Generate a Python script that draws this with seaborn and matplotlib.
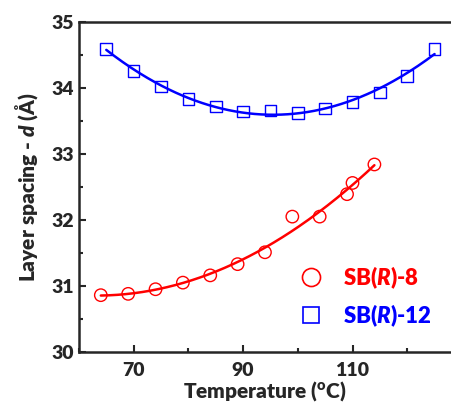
import numpy as np
import pandas as pd
import matplotlib
matplotlib.use("Agg")
import matplotlib.pyplot as plt
import seaborn as sns
from matplotlib.lines import Line2D
from matplotlib.ticker import MultipleLocator

# SB(R)-8 data
temp_8 = [64, 69, 74, 79, 84, 89, 94, 99, 104, 109, 110, 114]
d_8 = [30.86, 30.88, 30.95, 31.05, 31.16, 31.33, 31.51, 32.05, 32.05, 32.39, 32.56, 32.84]

# SB(R)-12 data
temp_12 = [65, 70, 75, 80, 85, 90, 95, 100, 105, 110, 115, 120, 125]
d_12 = [34.59, 34.26, 34.02, 33.83, 33.72, 33.64, 33.66, 33.62, 33.69, 33.79, 33.93, 34.18, 34.59]

labels = ["SB($\\mathit{R}$)-8", "SB($\\mathit{R}$)-12"]
colors = ["#ff0000", "#0000ff"]

sns.set_style("ticks")
font = "Lato"
plt.rcParams["font.family"] = [font, "DejaVu Sans"]
plt.rcParams["font.weight"] = "heavy"
plt.rcParams["axes.labelweight"] = "heavy"
plt.rcParams["mathtext.fontset"] = "custom"
plt.rcParams["mathtext.it"] = f"{font}:italic:heavy"
plt.rcParams["mathtext.rm"] = f"{font}:heavy"


def fit_curve(x, y, deg=2):
    coef = np.polyfit(x, y, deg)
    xs = np.linspace(min(x), max(x), 200)
    return pd.DataFrame({"T": xs, "d": np.polyval(coef, xs)})


df8 = pd.DataFrame({"T": temp_8, "d": d_8})
df12 = pd.DataFrame({"T": temp_12, "d": d_12})

fig = plt.figure(figsize=(4.51, 4.05), dpi=100)
ax = fig.add_axes([0.175, 0.131, 0.825, 0.815])

sns.lineplot(data=fit_curve(temp_8, d_8), x="T", y="d", color=colors[0], lw=1.8, ax=ax)
sns.lineplot(data=fit_curve(temp_12, d_12), x="T", y="d", color=colors[1], lw=1.8, ax=ax)
sns.scatterplot(data=df8, x="T", y="d", marker="o", s=80, facecolor="none",
                edgecolor=colors[0], linewidth=1.0, ax=ax)
sns.scatterplot(data=df12, x="T", y="d", marker="s", s=70, facecolor="none",
                edgecolor=colors[1], linewidth=1.0, ax=ax)

ax.set_xlim(60, 128)
ax.set_ylim(30, 35)
ax.xaxis.set_minor_locator(MultipleLocator(10))
ax.set_xticks([70, 90, 110])
ax.yaxis.set_major_locator(MultipleLocator(1))
ax.yaxis.set_minor_locator(MultipleLocator(0.5))
ax.tick_params(which="both", direction="in", width=1.5, labelsize=14)
ax.tick_params(which="major", length=5)
ax.tick_params(which="minor", length=3)
ax.tick_params(axis="x", pad=7)
for side in ["left", "bottom", "top"]:
    ax.spines[side].set_linewidth(1.8)
    ax.spines[side].set_visible(True)
ax.spines["right"].set_visible(False)

ax.set_xlabel("Temperature ($^{\\mathrm{o}}$C)", fontsize=15, labelpad=0)
ax.set_ylabel("Layer spacing - $\\mathit{d}$ (Å)", fontsize=15, labelpad=8)

handles = [
    Line2D([], [], ls="none", marker="o", ms=13, mfc="none", mec=colors[0], mew=1.2),
    Line2D([], [], ls="none", marker="s", ms=12, mfc="none", mec=colors[1], mew=1.2),
]
leg = ax.legend(handles, labels, loc="lower left", bbox_to_anchor=(0.51, 0.01),
                frameon=False, fontsize=16, handletextpad=0.45, labelspacing=0.5)
for t, c in zip(leg.get_texts(), colors):
    t.set_color(c)

fig.savefig("out.png", dpi=100)
